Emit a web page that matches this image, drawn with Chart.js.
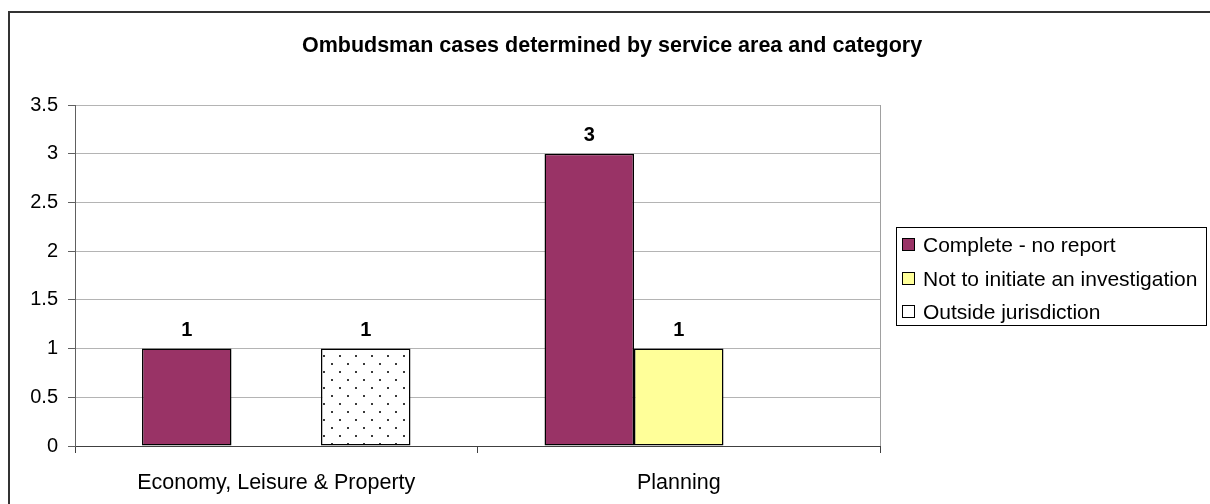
<!DOCTYPE html>
<html>
<head>
<meta charset="utf-8">
<script src="https://cdn.jsdelivr.net/npm/chart.js@4"></script>
<style>
    html, body { margin: 0; padding: 0; background: #fff; }
    canvas { display: block; }
</style>
</head>
<body>
<canvas id="casesChart" width="1210" height="504"></canvas>
<script>
// ===== OMBUDSMAN CASES CHART =====

const serviceAreas = ['Economy, Leisure & Property', 'Planning'];
const completeNoReport = [1, 3];
const notToInitiate = [0, 1];
const outsideJurisdiction = [1, 0];
const yTicks = [0, 0.5, 1, 1.5, 2, 2.5, 3, 3.5];

const FONT = '"Liberation Sans", Arial, sans-serif';

// Dotted fill used for the "Outside jurisdiction" series
function makeDotPattern() {
    const tile = document.createElement('canvas');
    tile.width = 16;
    tile.height = 16;
    const c = tile.getContext('2d');
    c.fillStyle = '#ffffff';
    c.fillRect(0, 0, 16, 16);
    c.fillStyle = '#3a3a3a';
    c.fillRect(3, 3, 2, 2);
    c.fillRect(11, 11, 2, 2);
    const ctx = document.getElementById('casesChart').getContext('2d');
    return ctx.createPattern(tile, 'repeat');
}

const legendItems = [
    { label: 'Complete - no report', fill: '#993366' },
    { label: 'Not to initiate an investigation', fill: '#ffff99' },
    { label: 'Outside jurisdiction', fill: '#ffffff' }
];

// Frame, title, plot border, value labels and boxed legend
const decorations = {
    id: 'decorations',
    beforeDatasetsDraw(chart) {
        const { ctx, chartArea } = chart;
        ctx.save();
        ctx.strokeStyle = '#a0a0a0';
        ctx.lineWidth = 1;
        ctx.beginPath();
        ctx.moveTo(chartArea.right + 0.5, chartArea.top);
        ctx.lineTo(chartArea.right + 0.5, chartArea.bottom);
        ctx.stroke();
        ctx.restore();
    },
    afterDraw(chart) {
        const { ctx } = chart;
        ctx.save();

        // outer frame
        ctx.strokeStyle = '#333333';
        ctx.lineWidth = 2;
        ctx.beginPath();
        ctx.moveTo(9, 504);
        ctx.lineTo(9, 12);
        ctx.lineTo(1212, 12);
        ctx.stroke();

        // title
        ctx.fillStyle = '#000';
        ctx.font = 'bold 21.5px ' + FONT;
        ctx.textAlign = 'center';
        ctx.textBaseline = 'alphabetic';
        ctx.fillText('Ombudsman cases determined by service area and category', 612, 52);

        // value labels above non-zero bars
        ctx.font = 'bold 20px ' + FONT;
        chart.data.datasets.forEach((ds, i) => {
            chart.getDatasetMeta(i).data.forEach((bar, j) => {
                if (!ds.data[j]) return;
                ctx.fillText(String(ds.data[j]), bar.x, bar.y - 13);
            });
        });

        // legend
        ctx.strokeStyle = '#000';
        ctx.lineWidth = 1;
        ctx.strokeRect(896.5, 227.5, 310, 98);
        ctx.font = '21px ' + FONT;
        ctx.textAlign = 'left';
        legendItems.forEach((item, i) => {
            const y = Math.round(238 + i * 33.5);
            ctx.fillStyle = item.fill;
            ctx.fillRect(902, y, 13, 13);
            ctx.strokeRect(902.5, y + 0.5, 12, 12);
            ctx.fillStyle = '#000';
            ctx.fillText(item.label, 923, y + 14);
        });
        ctx.restore();
    }
};

new Chart(document.getElementById('casesChart'), {
    type: 'bar',
    data: {
        labels: serviceAreas,
        datasets: [
            { label: 'Complete - no report', data: completeNoReport, backgroundColor: '#993366' },
            { label: 'Not to initiate an investigation', data: notToInitiate, backgroundColor: '#ffff99' },
            { label: 'Outside jurisdiction', data: outsideJurisdiction, backgroundColor: makeDotPattern() }
        ].map(ds => Object.assign(ds, {
            borderColor: '#000',
            borderWidth: 1.5,
            borderSkipped: false,
            barPercentage: 1,
            categoryPercentage: 0.667
        }))
    },
    options: {
        responsive: false,
        animation: false,
        devicePixelRatio: 1,
        layout: { padding: { top: 105, right: 330, bottom: 0, left: 0 } },
        plugins: {
            legend: { display: false },
            title: { display: false },
            tooltip: { enabled: false }
        },
        scales: {
            x: {
                grid: { drawOnChartArea: false, tickLength: 7, tickColor: '#404040' },
                border: { color: '#404040', width: 1 },
                ticks: { color: '#000', font: { family: FONT, size: 21.5 }, padding: 17 },
                afterFit(scale) { scale.height = 58; }
            },
            y: {
                min: 0,
                max: 3.5,
                afterBuildTicks(scale) { scale.ticks = yTicks.map(v => ({ value: v })); },
                grid: { color: '#b4b4b4', tickLength: 7, tickColor: '#606060' },
                border: { color: '#606060', width: 1 },
                ticks: {
                    color: '#000',
                    font: { family: FONT, size: 20 },
                    padding: 10,
                    callback: v => String(v)
                },
                afterFit(scale) { scale.width = 75; }
            }
        }
    },
    plugins: [decorations]
});
</script>
</body>
</html>
